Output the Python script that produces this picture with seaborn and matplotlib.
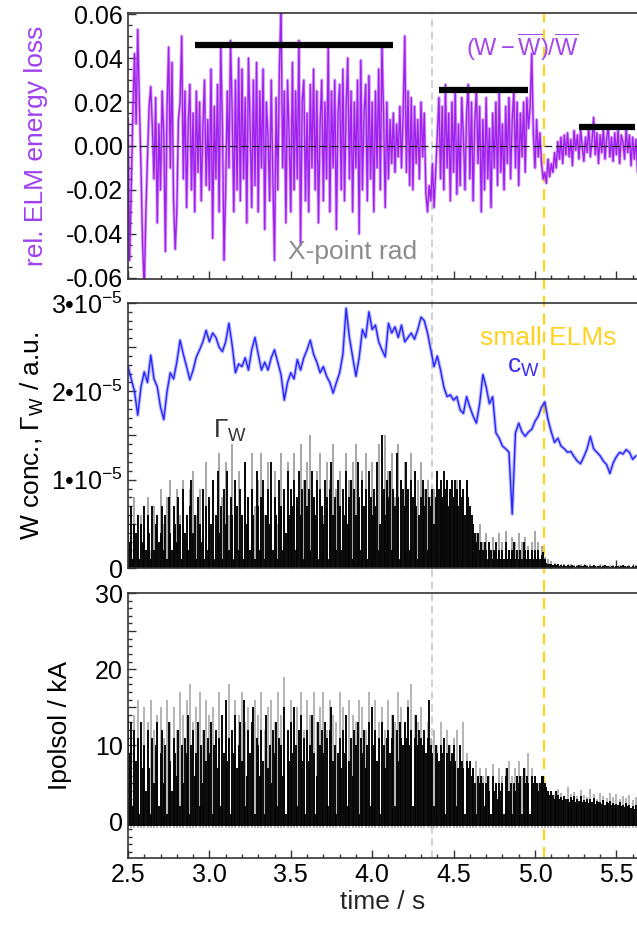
import matplotlib
matplotlib.use("Agg")
import matplotlib.pyplot as plt
import matplotlib.ticker as mticker
from matplotlib.lines import Line2D
from matplotlib.transforms import blended_transform_factory
import numpy as np
import pandas as pd
import seaborn as sns


T0 = 2.5
DT_FINE = 0.01
DT_COARSE = 0.02

# rel. ELM energy loss (W - W_mean) / W_mean, in units of 1e-3, sampled every 10 ms
elm_loss = [
    12, -52, -20, 15, 42, 10, 53, 20, -10, -45,
    -65, -30, -5, 18, 27, 8, -15, 22, -35, 10,
    -20, 25, 5, -48, 18, 45, -10, 38, -25, -47,
    -30, 12, 20, 50, -15, 25, -28, 10, 28, -20,
    15, -30, 25, -12, 20, -25, 8, 30, -18, 12,
    -20, 35, -42, 18, -15, 28, -30, 45, 10, -52,
    -20, 25, -10, 48, 15, -30, 30, -20, 40, -25,
    35, -15, 22, -35, 40, 10, -28, 30, -18, 38,
    -30, 25, -10, 35, -38, 20, 5, -25, 30, -15,
    -52, 22, -20, 35, 63, -10, 25, -35, 30, 5,
    -30, 38, -20, 25, -15, 48, -45, 20, 30, -25,
    15, -30, 28, -10, 35, -20, 25, -35, 10, 30,
    -25, 20, -15, 46, -30, 25, -10, 30, -38, 15,
    28, -20, 35, -25, 18, 40, -15, 25, -30, 20,
    -10, 30, -40, 39, -20, 15, 28, -25, 32, -15,
    20, -30, 25, -10, 35, -20, 45, 15, -28, 20,
    -15, 12, -8, 15, -12, 10, -5, 18, -10, 14,
    50, -12, 25, -18, 22, -20, 18, -8, 12, -15,
    20, -5, 15, -22, -30, -18, -25, -8, -28, -12,
    5, 22, -15, 18, -20, 28, -10, 15, -25, 20,
    -12, 25, -22, 10, -18, 22, 5, -20, 15, 28,
    -15, 20, -25, 10, 26, -8, 18, -30, 12, -20,
    22, -15, 8, -28, 15, -10, 20, -18, 25, -12,
    10, -20, 18, -8, 22, -15, 12, 25, -10, 20,
    -18, 15, -5, 20, -12, 22, 8, 18, 42, 5,
    -10, 12, -5, 6, -8, -15, -12, -17, -6, -14,
    -8, -12, -3, -10, 2, -6, 4, -8, 5, -4,
    6, -5, 3, -9, 7, -2, 5, -6, 8, 0,
    -7, 4, -3, 9, -5, 2, 13, -4, 6, -8,
    5, -3, 8, -6, 3, 9, -5, 4, -7, 6,
    -4, 7, -8, 5, 2, -6, 8, -3, 5, -9,
    4, -6, 3, -12,
]

# mean-level bars drawn on the energy-loss panel
bar_start = [2.91, 4.41, 5.27]
bar_end = [4.125, 4.96, 5.615]
bar_level = [0.046, 0.0255, 0.0087]

# W concentration c_W, units of 1e-6, every 20 ms
c_w = [
    22.8, 21.4, 20.0, 17.3, 20.5, 22.2, 21.0, 24.1, 21.4, 20.5,
    18.2, 16.8, 20.0, 22.1, 21.4, 23.3, 25.8, 24.2, 22.8, 21.3,
    22.4, 23.9, 24.7, 25.6, 26.9, 25.6, 26.6, 26.1, 25.0, 24.5,
    25.6, 27.7, 25.2, 22.1, 23.1, 22.8, 23.8, 22.4, 24.7, 26.1,
    24.2, 22.4, 23.3, 22.4, 23.8, 24.7, 23.3, 21.9, 19.0, 21.0,
    22.1, 21.4, 23.6, 22.4, 23.8, 24.7, 25.8, 24.2, 23.3, 22.1,
    22.8, 21.7, 21.0, 19.8, 21.0, 22.1, 24.2, 29.4, 26.1, 23.9,
    21.7, 23.8, 27.0, 26.1, 29.0, 27.0, 27.5, 25.6, 24.7, 23.9,
    27.7, 26.6, 27.3, 26.1, 27.5, 25.6, 26.1, 26.6, 25.9, 27.0,
    28.4, 28.0, 26.6, 24.7, 22.8, 24.0, 22.4, 20.5, 19.4, 19.6,
    19.0, 19.4, 17.9, 17.5, 19.4, 18.2, 17.2, 16.4, 18.6, 21.9,
    20.5, 18.6, 19.4, 15.3, 14.7, 13.8, 13.5, 13.1, 6.1, 15.3,
    16.4, 15.4, 14.9, 15.4, 15.7, 16.6, 17.2, 18.2, 18.8, 16.8,
    15.4, 14.2, 14.7, 13.8, 13.5, 13.1, 13.2, 12.6, 12.1, 11.8,
    12.6, 13.5, 14.9, 13.5, 13.1, 12.7, 12.1, 11.7, 10.7, 11.9,
    12.6, 13.1, 12.9, 13.4, 13.1, 12.3, 12.7,
]

# W influx Gamma_W, units of 1e-6, two channels
gamma_w_black = [
    6, 3, 7, 1, 5, 4, 6, 1, 5, 3,
    7, 2, 6, 4, 1, 7, 2, 5, 6, 3,
    4, 7, 2, 6, 1, 8, 4, 2, 7, 5,
    3, 8, 5, 1, 9, 4, 6, 2, 7, 10,
    4, 6, 1, 8, 5, 3, 9, 1, 7, 2,
    8, 5, 10, 1, 6, 11, 4, 7, 1, 9,
    5, 11, 2, 8, 6, 1, 10, 7, 2, 9,
    6, 1, 12, 5, 8, 2, 9, 6, 1, 11,
    7, 2, 8, 10, 1, 6, 9, 5, 12, 2,
    8, 6, 1, 10, 7, 2, 9, 4, 11, 6,
    9, 7, 10, 2, 8, 11, 6, 9, 1, 10,
    7, 9, 2, 11, 8, 6, 10, 1, 9, 7,
    5, 10, 8, 1, 9, 12, 6, 8, 2, 10,
    7, 2, 9, 6, 11, 5, 8, 10, 1, 9,
    6, 12, 8, 2, 10, 7, 9, 1, 11, 8,
    6, 9, 7, 12, 2, 5, 15, 9, 6, 10,
    8, 11, 2, 9, 7, 13, 8, 1, 10, 9,
    7, 12, 9, 2, 10, 8, 11, 7, 1, 6,
    8, 10, 7, 9, 2, 8, 7, 9, 5, 8,
    11, 9, 10, 8, 11, 9, 10, 7, 9, 10,
    8, 10, 9, 7, 10, 8, 9, 6, 10, 8,
    7, 6, 5, 4, 3, 4, 2, 3, 2, 3,
    2, 1, 3, 2, 1, 2, 3, 1, 2, 1,
    2, 1, 3, 1, 2, 1, 2, 3, 1, 2,
    1, 2, 1, 3, 2, 1, 2, 1, 2, 1,
    2, 1, 2, 1, 1.5, 1.8, 1, 0.6, 0.5, 0.4,
    0.4, 0.3, 0.5, 0.3, 0.4, 0.2, 0.3, 0.2, 0.3, 0.2,
    0.3, 0.2, 0.2, 0.3, 0.2, 0.1, 0.2, 0.3, 0.2, 0.2,
    0.2, 0.3, 0.2, 0.1, 0.2, 0.2, 0.3, 0.2, 0.1, 0.2,
    0.2, 0.1, 0.2, 0.3, 0.2, 0.2, 0.1, 0.2, 0.2, 0.1,
    0.2, 0.2, 0.1, 0.2, 0.3, 0.2, 0.1, 0.2, 0.2, 0.1,
    0.2, 0.1, 0.2, 0.2,
]
gamma_w_grey = [
    7, 4, 8, 3, 6, 5, 8, 2, 7, 4,
    9, 5, 8, 10, 4, 9, 6, 10, 3, 9,
    11, 6, 9, 4, 12, 7, 10, 5, 13, 8,
    12, 6, 14, 9, 11, 5, 12, 8, 13, 7,
    10, 13, 6, 12, 9, 11, 5, 13, 8, 12,
    9, 13, 7, 14, 10, 12, 15, 8, 11, 13,
    6, 12, 10, 14, 9, 11, 7, 13, 10, 12,
    14, 8, 11, 13, 9, 12, 7, 14, 10, 15,
    11, 13, 8, 14, 10, 12, 9, 13, 11, 10,
    12, 9, 10, 8, 9, 10, 8, 9, 10, 9,
    8, 10, 9, 8, 9.5, 6, 5, 4, 5, 3,
    4, 3, 3.5, 2, 4, 3, 4.2, 2, 3.5, 3,
    4, 3, 3.5, 2.5, 3, 4.2, 3, 2.5, 1.2, 1,
    0.8, 0.6, 0.5, 0.4, 0.4, 0.3, 0.4, 0.3, 0.3, 0.4,
    0.3, 0.3, 0.4, 0.3, 0.2, 0.3, 0.3, 0.2, 0.3, 0.3,
    0.2, 0.3, 0.3, 0.2, 0.3, 0.2, 0.3,
]

# poloidal SOL current Ipolsol, kA
ipolsol_black = [
    14, 9, 13, 2, 12, 8, 11, 1, 13, 7,
    10, 4, 12, 7, 1, 11, 5, 10, 13, 2,
    9, 12, 5, 10, 1, 13, 8, 4, 11, 9,
    6, 12, 2, 10, 5, 11, 9, 14, 1, 10,
    12, 6, 9, 13, 2, 10, 5, 12, 8, 11,
    9, 13, 1, 10, 12, 7, 11, 2, 14, 9,
    16, 8, 11, 1, 12, 9, 14, 7, 10, 13,
    8, 16, 2, 6, 12, 9, 13, 15, 1, 11,
    10, 6, 12, 8, 1, 14, 7, 10, 5, 12,
    9, 13, 2, 11, 10, 6, 15, 1, 12, 8,
    13, 9, 15, 10, 2, 12, 14, 8, 11, 1,
    12, 8, 10, 14, 9, 1, 6, 13, 10, 12,
    9, 13, 11, 2, 12, 15, 8, 10, 1, 9,
    11, 7, 12, 9, 14, 2, 8, 11, 6, 12,
    10, 13, 1, 11, 9, 12, 7, 10, 13, 2,
    15, 10, 12, 8, 11, 1, 13, 10, 7, 11,
    12, 9, 11, 14, 2, 12, 8, 13, 11, 10,
    13, 11, 15, 10, 12, 2, 11, 14, 10, 12,
    11, 10, 12, 9, 11, 16, 10, 9, 2, 10,
    9, 8, 10, 9, 11, 1, 9, 10, 8, 9,
    10, 8, 2, 7, 10, 8, 7, 1, 8, 7,
    8, 6, 7, 5, 1, 6, 5, 6, 5, 2,
    5, 6, 4, 1, 6, 4, 5, 3, 5, 4,
    5, 1, 6, 7, 4, 5, 1, 5, 4, 6,
    5, 6, 1, 7, 5, 6, 5, 1, 6, 5,
    6, 5, 4, 5, 6, 6, 5, 4.5, 4, 3.5,
    4, 3.5, 3, 4, 3.5, 3, 3.2, 2.8, 3.4, 3,
    3, 2.6, 3.2, 2.8, 3.4, 2.5, 3, 2.7, 3.3, 2.6,
    2.8, 2.5, 3, 2.4, 2.9, 2.6, 3.1, 2.3, 2.7, 2.5,
    2.6, 2.3, 2.8, 2.2, 2.5, 2.4, 2.7, 2.1, 2.4, 2.2,
    2.3, 2.1, 2.5, 2.0, 2.2, 1.9, 2.4, 2.0, 2.1, 1.8,
    2.0, 1.7, 2.1, 1.8,
]
ipolsol_grey = [
    15, 12, 14, 16, 11, 15, 13, 16, 12, 14,
    15, 11, 16, 13, 15, 12, 17, 14, 16, 18,
    13, 15, 17, 12, 16, 14, 15, 11, 17, 13,
    15, 18, 12, 16, 14, 17, 13, 15, 11, 16,
    14, 17, 12, 15, 16, 13, 17, 14, 19, 12,
    16, 13, 15, 17, 12, 16, 14, 17, 13, 15,
    17, 12, 16, 14, 13, 17, 15, 12, 16, 14,
    13, 16, 15, 12, 17, 14, 16, 13, 15, 12,
    16, 14, 13, 17, 15, 12, 16, 18, 14, 13,
    15, 12, 13, 11, 12, 10, 13, 11, 12, 10,
    11, 12, 10, 13, 9, 8, 7, 8, 7, 6,
    7, 6, 7.5, 5, 7, 6, 7, 8, 6, 7,
    8, 6, 7, 9, 7, 6, 5, 6, 5, 4,
    4, 3.5, 4.2, 3.8, 3.2, 4.5, 3.6, 3.9, 3.4, 4.1,
    3.5, 3.2, 4.3, 3.6, 3, 3.8, 3.4, 3.1, 3.7, 3.2,
    3.6, 2.9, 3.4, 3.1, 3.5, 2.8, 3.2,
]

xpoint_time = 4.365
small_elm_time = 5.055

PURPLE = "#a020f0"
BLUE = "#2424ff"
GOLD = "#ffd21f"
FONT = "Liberation Sans"


def times(values, dt):
    return T0 + dt * np.arange(len(values))


def style_axis(ax, show_xlabels):
    ax.set_facecolor("none")
    ax.set_xlim(2.5, 5.63)
    ax.spines["right"].set_visible(False)
    for side in ("left", "top", "bottom"):
        ax.spines[side].set_color("#333333")
        ax.spines[side].set_linewidth(1.2)
    ax.xaxis.set_major_locator(mticker.MultipleLocator(0.5))
    ax.xaxis.set_minor_locator(mticker.MultipleLocator(0.1))
    ax.tick_params(which="both", direction="in", top=False, right=False,
                   colors="#333333", labelcolor="black", labelsize=18, width=1)
    ax.tick_params(which="major", length=6)
    ax.tick_params(which="minor", length=3)
    if show_xlabels:
        ax.xaxis.set_major_formatter(mticker.FormatStrFormatter("%.1f"))
    else:
        ax.tick_params(axis="x", labelbottom=False)
    ax.set_xlabel("")


def main():
    sns.set_theme(style="ticks")
    plt.rcParams["font.family"] = [FONT, "DejaVu Sans"]
    plt.rcParams["mathtext.fontset"] = "custom"
    plt.rcParams["mathtext.rm"] = FONT
    plt.rcParams["mathtext.it"] = FONT + ":italic"
    plt.rcParams["mathtext.bf"] = FONT + ":bold"
    plt.rcParams["axes.unicode_minus"] = False

    fig = plt.figure(figsize=(6.37, 9.26), dpi=100)
    fig.patch.set_facecolor("white")
    ax1 = fig.add_axes([0.2009, 0.6987, 0.80, 0.2873])
    ax2 = fig.add_axes([0.2009, 0.3866, 0.80, 0.2862])
    ax3 = fig.add_axes([0.2009, 0.0734, 0.80, 0.2862])

    # dashed time markers running through all three panels
    trans = blended_transform_factory(ax3.transData, fig.transFigure)
    y_lo, y_hi = 0.0734, 0.6987 + 0.2873
    fig.add_artist(Line2D([xpoint_time, xpoint_time], [y_lo, y_hi], transform=trans,
                          color="#c4c4c4", lw=1.1, ls=(0, (5, 3)), zorder=-1))
    fig.add_artist(Line2D([small_elm_time, small_elm_time], [y_lo, y_hi], transform=trans,
                          color=GOLD, lw=1.6, ls=(0, (5, 3)), zorder=-1))

    # --- panel 1: relative ELM energy loss
    df_elm = pd.DataFrame({"t": times(elm_loss, DT_FINE), "v": np.array(elm_loss) * 1e-3})
    sns.lineplot(data=df_elm, x="t", y="v", ax=ax1, color=PURPLE, lw=2.2, alpha=0.4)
    sns.lineplot(data=df_elm, x="t", y="v", ax=ax1, color=PURPLE, lw=1.0)
    ax1.axhline(0, color="#222222", lw=0.9, ls=(0, (6, 3)))
    ax1.hlines(bar_level, bar_start, bar_end, color="black", lw=4.5)
    ax1.set_ylim(-0.0605, 0.0605)
    style_axis(ax1, False)
    ax1.yaxis.set_major_locator(mticker.MultipleLocator(0.02))
    ax1.yaxis.set_minor_locator(mticker.MultipleLocator(0.005))
    ax1.yaxis.set_major_formatter(mticker.FormatStrFormatter("%.2f"))
    ax1.set_ylabel("rel. ELM energy loss", color="#a040f0", fontsize=19)
    ax1.yaxis.set_label_coords(-0.157, 0.5)
    ax1.text(4.92, 0.0452,
             r"$(\mathregular{W}-\overline{\mathregular{W}})/\overline{\mathregular{W}}$",
             color="#a446ee", fontsize=17, ha="center", va="center")
    ax1.text(3.88, -0.048, "X-point rad", color="#8c8c8c", fontsize=19,
             ha="center", va="center")

    # --- panel 2: W concentration and W influx
    t_fine = times(gamma_w_black, DT_FINE)
    t_coarse = times(gamma_w_grey, DT_COARSE)
    ax2.vlines(t_coarse, 0, np.array(gamma_w_grey) * 1e-6, color="#8e8e8e", lw=1.1)
    ax2.vlines(t_fine, 0, np.array(gamma_w_black) * 1e-6, color="black", lw=1.35)
    df_cw = pd.DataFrame({"t": times(c_w, DT_COARSE), "v": np.array(c_w) * 1e-6})
    sns.lineplot(data=df_cw, x="t", y="v", ax=ax2, color=BLUE, lw=2.6, alpha=0.3)
    sns.lineplot(data=df_cw, x="t", y="v", ax=ax2, color=BLUE, lw=1.0)
    ax2.set_ylim(0, 3.0e-5)
    style_axis(ax2, False)
    ax2.yaxis.set_major_locator(mticker.MultipleLocator(0.5e-5))
    ax2.yaxis.set_minor_locator(mticker.MultipleLocator(0.1e-5))

    def sci_fmt(v, pos):
        n = v / 1e-5
        if abs(n - round(n)) > 1e-6:
            return ""
        n = int(round(n))
        return "0" if n == 0 else f"{n}•10$^{{-5}}$"

    ax2.yaxis.set_major_formatter(mticker.FuncFormatter(sci_fmt))
    ax2.set_ylabel(r"W conc., Γ$_\mathregular{W}$ / a.u.", color="black", fontsize=19)
    ax2.yaxis.set_label_coords(-0.16, 0.5)
    ax2.text(5.08, 2.6e-5, "small ELMs", color=GOLD, fontsize=19, ha="center", va="center")
    ax2.text(4.93, 2.27e-5, r"c$_\mathregular{W}$", color="#3a2cf0", fontsize=19,
             ha="center", va="center")
    ax2.text(3.13, 1.55e-5, r"Γ$_\mathregular{W}$", color="#333333", fontsize=19,
             ha="center", va="center")

    # --- panel 3: Ipolsol
    ax3.vlines(times(ipolsol_grey, DT_COARSE), -0.8, ipolsol_grey, color="#a0a0a0", lw=1.1)
    ax3.vlines(times(ipolsol_black, DT_FINE), -0.6, ipolsol_black, color="black", lw=1.35)
    ax3.set_ylim(-4.8, 30)
    style_axis(ax3, True)
    ax3.yaxis.set_major_locator(mticker.MultipleLocator(5))
    ax3.yaxis.set_minor_locator(mticker.MultipleLocator(1))
    ax3.yaxis.set_major_formatter(
        mticker.FuncFormatter(lambda v, p: f"{int(round(v))}" if round(v) % 10 == 0 else ""))
    ax3.set_ylabel("Ipolsol / kA", color="black", fontsize=19)
    ax3.yaxis.set_label_coords(-0.11, 0.5)
    ax3.set_xlabel("time / s", fontsize=19, labelpad=2)

    fig.savefig("out.png", dpi=100, facecolor="white")
    plt.close(fig)


if __name__ == "__main__":
    main()
